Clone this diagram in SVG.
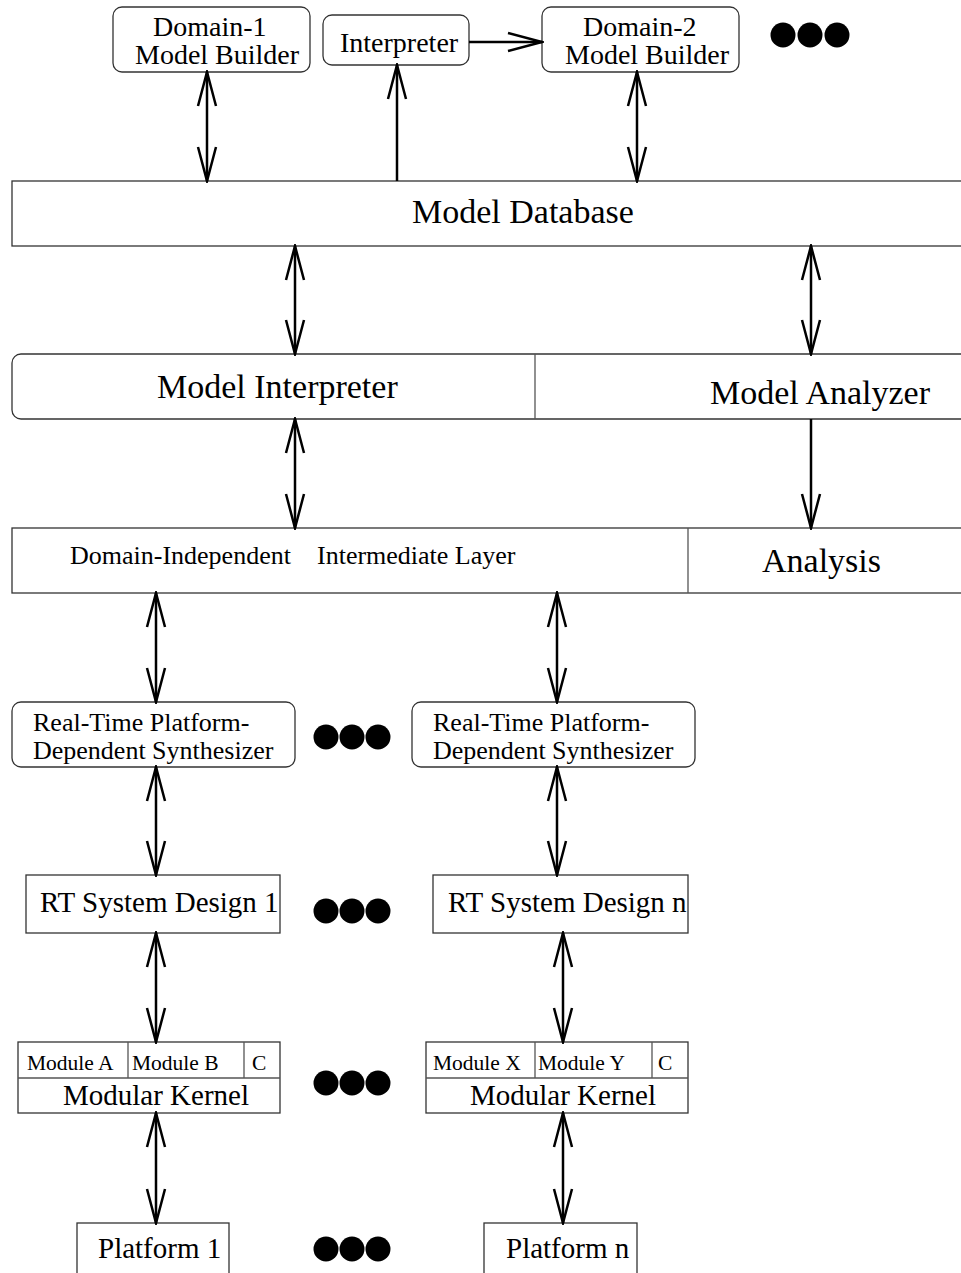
<svg xmlns="http://www.w3.org/2000/svg" width="961" height="1273" viewBox="0 0 961 1273">
<style>
.box{fill:#fff;stroke:#333;stroke-width:1.3}
.div{stroke:#555;stroke-width:1.3;fill:none}
.t{font-family:"Liberation Serif","Times New Roman",serif;fill:#000}
.xl{font-size:34px}
.l{font-size:28px}
.lg{font-size:29px}
.m{font-size:26px}
.s{font-size:21.5px}
.ar{stroke:#000;stroke-width:2.5;fill:none}
.dot{fill:#000}
</style>
<defs>
<marker id="ah" viewBox="-36 -12 38 24" markerWidth="38" markerHeight="24" refX="0" refY="0" orient="auto-start-reverse" markerUnits="userSpaceOnUse">
<path d="M-34,-9 L0,0 L-34,9" fill="none" stroke="#000" stroke-width="2.5"/>
</marker>
</defs>
<rect width="961" height="1273" fill="#fff"/>

<g id="domain1">
<rect class="box" x="113" y="7" width="197" height="65" rx="9"/>
<text class="t l" x="153" y="36">Domain-1</text>
<text class="t l" x="135" y="64">Model Builder</text>
</g>
<g id="interpreter">
<rect class="box" x="323" y="15" width="146" height="50" rx="9"/>
<text class="t l" x="340" y="52">Interpreter</text>
</g>
<g id="domain2">
<rect class="box" x="542" y="7" width="197" height="65" rx="9"/>
<text class="t l" x="583" y="36">Domain-2</text>
<text class="t l" x="565" y="64">Model Builder</text>
</g>
<g id="dots-top">
<circle class="dot" cx="783" cy="35" r="12.5"/><circle class="dot" cx="810" cy="35" r="12.5"/><circle class="dot" cx="837" cy="35" r="12.5"/>
</g>

<g id="model-database">
<rect class="box" x="12" y="181" width="1000" height="65"/>
<text class="t xl" x="412" y="223">Model Database</text>
</g>

<g id="model-interpreter-analyzer">
<rect class="box" x="12" y="354" width="1000" height="65" rx="9"/>
<line class="div" x1="535" y1="354" x2="535" y2="419"/>
<text class="t xl" x="157" y="398">Model Interpreter</text>
<text class="t xl" x="710" y="404">Model Analyzer</text>
</g>

<g id="intermediate-layer">
<rect class="box" x="12" y="528" width="1000" height="65"/>
<line class="div" x1="688" y1="528" x2="688" y2="593"/>
<text class="t m" x="70" y="564">Domain-Independent</text>
<text class="t m" x="317" y="564">Intermediate Layer</text>
<text class="t xl" x="762" y="572">Analysis</text>
</g>

<g id="synth-1">
<rect class="box" x="12" y="702" width="283" height="65" rx="9"/>
<text class="t m" x="33" y="731">Real-Time Platform-</text>
<text class="t m" x="33" y="759">Dependent Synthesizer</text>
</g>
<g id="synth-n">
<rect class="box" x="412" y="702" width="283" height="65" rx="9"/>
<text class="t m" x="433" y="731">Real-Time Platform-</text>
<text class="t m" x="433" y="759">Dependent Synthesizer</text>
</g>

<g id="design-1">
<rect class="box" x="26" y="875" width="254" height="58"/>
<text class="t lg" x="40" y="912">RT System Design 1</text>
</g>
<g id="design-n">
<rect class="box" x="433" y="875" width="255" height="58"/>
<text class="t lg" x="448" y="912">RT System Design n</text>
</g>

<g id="kernel-1">
<rect class="box" x="18" y="1042" width="262" height="71"/>
<line class="div" x1="18" y1="1078" x2="280" y2="1078"/>
<line class="div" x1="128" y1="1042" x2="128" y2="1078"/>
<line class="div" x1="244" y1="1042" x2="244" y2="1078"/>
<text class="t s" x="27" y="1070">Module A</text>
<text class="t s" x="132" y="1070">Module B</text>
<text class="t s" x="252" y="1070">C</text>
<text class="t lg" x="63" y="1105">Modular Kernel</text>
</g>
<g id="kernel-n">
<rect class="box" x="426" y="1042" width="262" height="71"/>
<line class="div" x1="426" y1="1078" x2="688" y2="1078"/>
<line class="div" x1="535" y1="1042" x2="535" y2="1078"/>
<line class="div" x1="652" y1="1042" x2="652" y2="1078"/>
<text class="t s" x="433" y="1070">Module X</text>
<text class="t s" x="538" y="1070">Module Y</text>
<text class="t s" x="658" y="1070">C</text>
<text class="t lg" x="470" y="1105">Modular Kernel</text>
</g>

<g id="platform-1">
<rect class="box" x="77" y="1223" width="152" height="70"/>
<text class="t lg" x="98" y="1258">Platform 1</text>
</g>
<g id="platform-n">
<rect class="box" x="484" y="1223" width="153" height="70"/>
<text class="t lg" x="506" y="1258">Platform n</text>
</g>

<g id="dots">
<circle class="dot" cx="326" cy="737" r="12.5"/><circle class="dot" cx="352" cy="737" r="12.5"/><circle class="dot" cx="378" cy="737" r="12.5"/>
<circle class="dot" cx="326" cy="911" r="12.5"/><circle class="dot" cx="352" cy="911" r="12.5"/><circle class="dot" cx="378" cy="911" r="12.5"/>
<circle class="dot" cx="326" cy="1083" r="12.5"/><circle class="dot" cx="352" cy="1083" r="12.5"/><circle class="dot" cx="378" cy="1083" r="12.5"/>
<circle class="dot" cx="326" cy="1249" r="12.5"/><circle class="dot" cx="352" cy="1249" r="12.5"/><circle class="dot" cx="378" cy="1249" r="12.5"/>
</g>

<g id="connectors">
<line class="ar" x1="207" y1="72" x2="207" y2="181" marker-start="url(#ah)" marker-end="url(#ah)"/>
<line class="ar" x1="397" y1="181" x2="397" y2="65" marker-end="url(#ah)"/>
<line class="ar" x1="469" y1="42" x2="542" y2="42" marker-end="url(#ah)"/>
<line class="ar" x1="637" y1="72" x2="637" y2="181" marker-start="url(#ah)" marker-end="url(#ah)"/>
<line class="ar" x1="295" y1="246" x2="295" y2="354" marker-start="url(#ah)" marker-end="url(#ah)"/>
<line class="ar" x1="811" y1="246" x2="811" y2="354" marker-start="url(#ah)" marker-end="url(#ah)"/>
<line class="ar" x1="295" y1="419" x2="295" y2="528" marker-start="url(#ah)" marker-end="url(#ah)"/>
<line class="ar" x1="811" y1="419" x2="811" y2="528" marker-end="url(#ah)"/>
<line class="ar" x1="156" y1="593" x2="156" y2="702" marker-start="url(#ah)" marker-end="url(#ah)"/>
<line class="ar" x1="557" y1="593" x2="557" y2="702" marker-start="url(#ah)" marker-end="url(#ah)"/>
<line class="ar" x1="156" y1="767" x2="156" y2="875" marker-start="url(#ah)" marker-end="url(#ah)"/>
<line class="ar" x1="557" y1="767" x2="557" y2="875" marker-start="url(#ah)" marker-end="url(#ah)"/>
<line class="ar" x1="156" y1="933" x2="156" y2="1042" marker-start="url(#ah)" marker-end="url(#ah)"/>
<line class="ar" x1="563" y1="933" x2="563" y2="1042" marker-start="url(#ah)" marker-end="url(#ah)"/>
<line class="ar" x1="156" y1="1113" x2="156" y2="1223" marker-start="url(#ah)" marker-end="url(#ah)"/>
<line class="ar" x1="563" y1="1113" x2="563" y2="1223" marker-start="url(#ah)" marker-end="url(#ah)"/>
</g>
</svg>
